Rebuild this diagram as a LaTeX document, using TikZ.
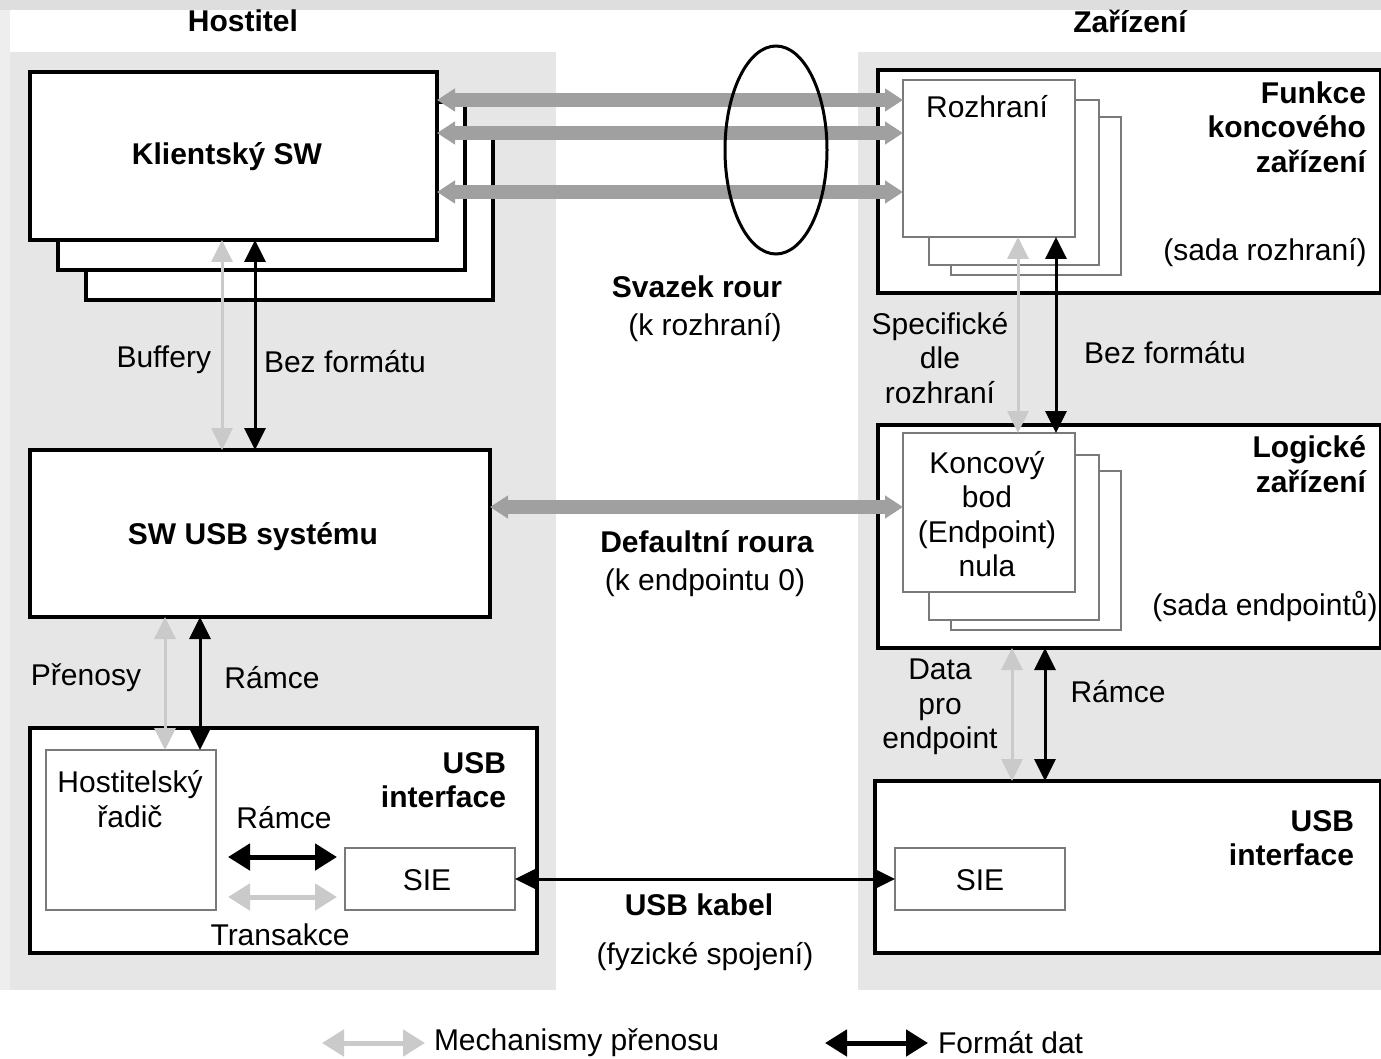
\documentclass[tikz,border=0pt]{standalone}
\usepackage{fontspec}
\setmainfont{Liberation Sans}
\usetikzlibrary{arrows.meta,calc,shapes.geometric}

\definecolor{bandgray}{HTML}{DEDEDE}
\definecolor{edgegray}{HTML}{EEEEEE}
\definecolor{panelgray}{HTML}{E6E6E6}
\definecolor{pipegray}{HTML}{A0A0A0}
\definecolor{mechgray}{HTML}{CACACA}
\definecolor{subgray}{HTML}{7A7A7A}

\tikzset{
  txt/.style={inner sep=0pt, outer sep=0pt, align=center,
              font=\fontsize{30}{34.5}\selectfont},
  btxt/.style={txt, font=\fontsize{30}{34.5}\selectfont\bfseries},
  bigbox/.style={draw=black, line width=3.5pt, fill=white, inner sep=0pt,
                 outer sep=0pt, anchor=north west},
  subbox/.style={draw=subgray, line width=1.6pt, fill=white, inner sep=0pt,
                 outer sep=0pt, anchor=north west},
  pipe/.style={draw=pipegray, line width=14pt,
               {Triangle[length=18pt,width=22pt]}-{Triangle[length=18pt,width=22pt]}},
  fmt/.style={draw=black, line width=3pt,
              {Triangle[length=22pt,width=21pt]}-{Triangle[length=22pt,width=21pt]}},
  mech/.style={draw=mechgray, line width=3pt,
               {Triangle[length=22pt,width=21pt]}-{Triangle[length=22pt,width=21pt]}},
  fmtbig/.style={draw=black, line width=5pt,
                 {Triangle[length=22pt,width=26pt]}-{Triangle[length=22pt,width=26pt]}},
  mechbig/.style={draw=mechgray, line width=5pt,
                  {Triangle[length=22pt,width=26pt]}-{Triangle[length=22pt,width=26pt]}},
}

\begin{document}
\begin{tikzpicture}[x=1pt,y=-1pt]
\useasboundingbox (0,0) rectangle (1381,1059);
\fill[white] (0,0) rectangle (1381,1059);

% outer bands and the two side panels
\fill[edgegray] (0,0) rectangle (10,990);
\fill[bandgray] (0,0) rectangle (1381,10);
\fill[panelgray] (10,52) rectangle (556,990);
\fill[panelgray] (858,52) rectangle (1381,990);

\node[btxt] (thost) at (243,21) {Hostitel};
\node[btxt] (tdev) at (1130,21) {Zařízení};

% ---------------- host side ----------------
\node[bigbox, minimum width=407pt, minimum height=168pt] (client3) at (86,132) {};
\node[bigbox, minimum width=407pt, minimum height=168pt] (client2) at (58,102) {};
\node[bigbox, minimum width=407pt, minimum height=168pt] (client) at (30,72) {};
\node[btxt] (tclient) at (227,157) {Klientský SW};

\node[bigbox, minimum width=460pt, minimum height=167pt] (swusb) at (30,450) {};
\node[btxt] (tswusb) at (253,537) {SW USB systému};

\node[bigbox, minimum width=507pt, minimum height=225pt] (hostif) at (30,728) {};
\node[subbox, minimum width=170pt, minimum height=160pt] (hc) at (46,750) {};
\node[txt] (thc) at (130,799) {Hostitelský\\řadič};
\node[subbox, minimum width=170pt, minimum height=62pt] (hsie) at (345,848) {};
\node[txt] (thsie) at (427,880) {SIE};
\node[btxt, align=right, anchor=east] (thostif) at (506,780) {USB\\interface};
\node[txt] (tramce1) at (284,818) {Rámce};
\node[txt] (ttrans) at (280,935) {Transakce};

% ---------------- device side ----------------
\node[bigbox, minimum width=503pt, minimum height=223pt] (funkce) at (878,70) {};
\node[subbox, minimum width=170pt, minimum height=158pt] (rozh3) at (951,117) {};
\node[subbox, minimum width=170pt, minimum height=165pt] (rozh2) at (929,100) {};
\node[subbox, minimum width=172pt, minimum height=157pt] (rozh) at (903,80) {};
\node[txt] (trozh) at (987,107) {Rozhraní};
\node[btxt, align=right, anchor=east] (tfunkce) at (1366,127) {Funkce\\koncového\\zařízení};
\node[txt] (tsadar) at (1265,253) {(sada rozhraní)};

\node[bigbox, minimum width=503pt, minimum height=223pt] (logic) at (878,425) {};
\node[subbox, minimum width=170pt, minimum height=159pt] (ep3) at (951,471) {};
\node[subbox, minimum width=170pt, minimum height=165pt] (ep2) at (929,455) {};
\node[subbox, minimum width=172pt, minimum height=159pt] (ep) at (903,433) {};
\node[txt] (tep) at (987,514) {Koncový\\bod\\(Endpoint)\\nula};
\node[btxt, align=right, anchor=east] (tlogic) at (1366,464) {Logické\\zařízení};
\node[txt] (tsadae) at (1265,607) {(sada endpointů)};

\node[bigbox, minimum width=506pt, minimum height=172pt] (devif) at (875,781) {};
\node[subbox, minimum width=170pt, minimum height=62pt] (dsie) at (895,848) {};
\node[txt] (tdsie) at (980,880) {SIE};
\node[btxt, align=right, anchor=east] (tdevif) at (1354,838) {USB\\interface};

% ---------------- pipes ----------------
\coordinate (y1) at (0,100);
\coordinate (y2) at (0,133);
\coordinate (y3) at (0,192);
\coordinate (y4) at (0,507);
\draw[pipe] (client.east |- y1) -- (rozh.west |- y1);
\draw[pipe] (client.east |- y2) -- (rozh.west |- y2);
\draw[pipe] (client.east |- y3) -- (rozh.west |- y3);
\draw[pipe] (swusb.east |- y4) -- (ep.west |- y4);

\node[draw=black, line width=3pt, ellipse, minimum width=102pt,
      minimum height=208pt, inner sep=0pt] (bundle) at (776,150) {};
\node[btxt] (tsvazek) at (697,287) {Svazek rour};
\node[txt] (tksvazek) at (705,328) {(k rozhraní)};
\node[btxt] (tdefault) at (707,542) {Defaultní roura};
\node[txt] (tkdefault) at (705,583) {(k endpointu 0)};

% ---------------- vertical connectors ----------------
\coordinate (x1) at (222,0);
\coordinate (x2) at (255,0);
\draw[mech] (client.south -| x1) -- (swusb.north -| x1);
\draw[fmt] (client.south -| x2) -- (swusb.north -| x2);
\node[txt, anchor=east] (tbuf) at (211,360) {Buffery};
\node[txt, anchor=west] (tbez1) at (264,362) {Bez formátu};

\coordinate (x3) at (165,0);
\coordinate (x4) at (200,0);
\draw[mech] (swusb.south -| x3) -- (hc.north -| x3);
\draw[fmt] (swusb.south -| x4) -- (hc.north -| x4);
\node[txt] (tpren) at (86,678) {Přenosy};
\node[txt] (tramce2) at (272,678) {Rámce};

\coordinate (x5) at (1018,0);
\coordinate (x6) at (1056,0);
\draw[mech] (rozh.south -| x5) -- (ep.north -| x5);
\draw[fmt] (rozh.south -| x6) -- (ep.north -| x6);
\node[txt] (tspec) at (940,358) {Specifické\\dle\\rozhraní};
\node[txt] (tbez2) at (1165,353) {Bez formátu};

\coordinate (x7) at (1012,0);
\coordinate (x8) at (1045,0);
\draw[mech] (logic.south -| x7) -- (devif.north -| x7);
\draw[fmt] (logic.south -| x8) -- (devif.north -| x8);
\node[txt] (tdata) at (940,707) {Data\\pro\\endpoint};
\node[txt] (tramce3) at (1118,692) {Rámce};

% ---------------- inside host USB interface ----------------
\coordinate (y5) at (0,857);
\coordinate (y6) at (0,897);
\draw[fmtbig, shorten <=12pt, shorten >=8pt] (hc.east |- y5) -- (hsie.west |- y5);
\draw[mechbig, shorten <=12pt, shorten >=8pt] (hc.east |- y6) -- (hsie.west |- y6);

% ---------------- USB cable ----------------
\draw[fmt] (hsie.east) -- (dsie.west);
\node[btxt] (tkabel) at (699,905) {USB kabel};
\node[txt] (tfyz) at (705,957) {(fyzické spojení)};

% ---------------- legend ----------------
\coordinate (lg1a) at (322,1043);
\coordinate (lg1b) at (425,1043);
\coordinate (lg2a) at (825,1043);
\coordinate (lg2b) at (928,1043);
\draw[mechbig] (lg1a) -- (lg1b);
\node[txt, anchor=west] (tmech) at (434,1043) {Mechanismy přenosu};
\draw[fmtbig] (lg2a) -- (lg2b);
\node[txt, anchor=west] (tfmt) at (938,1043) {Formát dat};
\end{tikzpicture}
\end{document}
